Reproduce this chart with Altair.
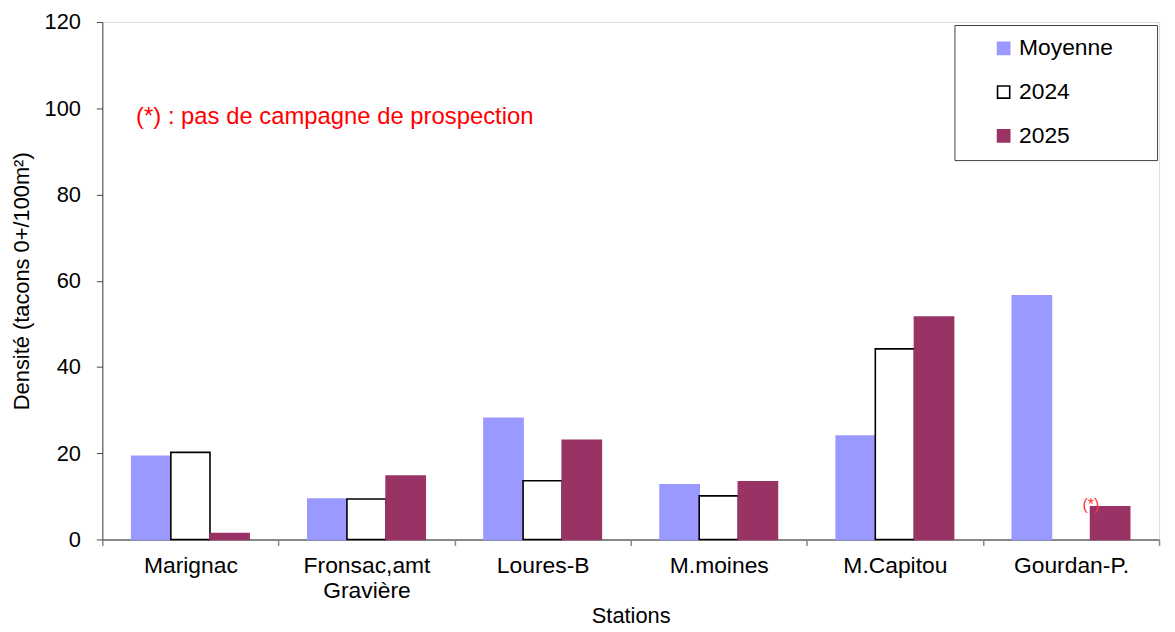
import altair as alt
import pandas as pd

stations = ["Marignac", "Fronsac,amt Gravière", "Loures-B", "M.moines", "M.Capitou", "Gourdan-P."]
series = ["Moyenne", "2024", "2025"]
moyenne = [19.3, 9.4, 28.1, 12.7, 24.0, 56.5]
v2024 = [20.2, 9.4, 13.6, 10.1, 44.2, None]
v2025 = [1.4, 14.7, 23.0, 13.4, 51.6, 7.6]
fill_colors = ["#9999FF", "#FFFFFF", "#993366"]
stroke_colors = ["#9999FF", "#000000", "#993366"]

rows = []
for i, s in enumerate(stations):
    for name, vals in zip(series, [moyenne, v2024, v2025]):
        if vals[i] is not None:
            rows.append({"Station": s, "Série": name, "Valeur": vals[i]})
df = pd.DataFrame(rows)

FONT = "Liberation Sans"
PAD = "\u00a0" * 5 + "\u200b"

x_enc = alt.X(
    "Station:N",
    sort=stations,
    scale=alt.Scale(domain=stations, paddingInner=0, paddingOuter=0),
    axis=alt.Axis(
        title="Stations",
        labelAngle=0,
        labelFontSize=23,
        labelFont=FONT,
        labelColor="black",
        labelPadding=9,
        labelLineHeight=25,
        labelExpr="datum.value == 'Fronsac,amt Gravière' ? ['Fronsac,amt', 'Gravière'] : datum.label",
        labelBaseline="top",
        titleFontSize=22,
        titleFont=FONT,
        titleFontWeight="normal",
        titleColor="black",
        titlePadding=4,
        tickBand="extent",
        tickSize=6,
        tickColor="#888888",
        tickWidth=1.5,
        domainColor="#888888",
        domainWidth=2,
        grid=False,
    ),
)

y_enc = alt.Y(
    "Valeur:Q",
    scale=alt.Scale(domain=[0, 120]),
    axis=alt.Axis(
        title="Densité (tacons 0+/100m²)",
        values=[0, 20, 40, 60, 80, 100, 120],
        labelFontSize=22,
        labelFont=FONT,
        labelColor="black",
        labelPadding=16,
        tickSize=6,
        tickColor="#444444",
        domainColor="#444444",
        titleFontSize=22,
        titleFont=FONT,
        titleFontWeight="normal",
        titleColor="black",
        titlePadding=11,
        grid=False,
    ),
)

bars = alt.Chart(df).mark_bar(strokeWidth=1.6).encode(
    x=x_enc,
    y=y_enc,
    xOffset=alt.XOffset(
        "Série:N",
        sort=series,
        scale=alt.Scale(domain=series, paddingInner=0, paddingOuter=0.75),
    ),
    fill=alt.Fill(
        "Série:N",
        sort=series,
        scale=alt.Scale(domain=series, range=fill_colors),
        legend=alt.Legend(
            title=None,
            orient="none",
            legendX=858,
            legendY=3,
            padding=12,
            rowPadding=20,
            symbolType="square",
            symbolSize=150,
            symbolStrokeWidth=1.6,
            symbolOffset=26,
            labelFontSize=23,
            labelFont=FONT,
            labelColor="black",
            labelOffset=4,
            labelLimit=300,
            labelExpr="datum.label + '" + PAD + "'",
            strokeColor="#404040",
            fillColor="white",
        ),
    ),
    stroke=alt.Stroke(
        "Série:N",
        sort=series,
        scale=alt.Scale(domain=series, range=stroke_colors),
        legend=None,
    ),
)

note_df = pd.DataFrame({"txt": ["(*) : pas de campagne de prospection"], "y": [98]})
note = alt.Chart(note_df).mark_text(
    align="left", baseline="middle", color="#FF0000", fontSize=24, font=FONT
).encode(x=alt.value(34), y=alt.Y("y:Q"), text="txt:N")

star_df = pd.DataFrame({"Station": ["Gourdan-P."], "Série": ["2024"], "y": [8.0], "txt": ["(*)"]})
star = alt.Chart(star_df).mark_text(
    align="center", baseline="middle", color="#FF3333", fontSize=16, font=FONT, dx=20
).encode(
    x=alt.X("Station:N", sort=stations),
    xOffset=alt.XOffset("Série:N", sort=series),
    y=alt.Y("y:Q"),
    text="txt:N",
)

chart = (
    alt.layer(bars, note, star)
    .properties(
        width=1064,
        height=521,
        autosize=alt.AutoSizeParams(type="none"),
        padding={"left": 95, "top": 12, "right": 8, "bottom": 86},
    )
    .configure_view(stroke=None)
    .configure(background="white")
)

chart.save("out.html", embed_options={"renderer": "svg", "actions": False})
